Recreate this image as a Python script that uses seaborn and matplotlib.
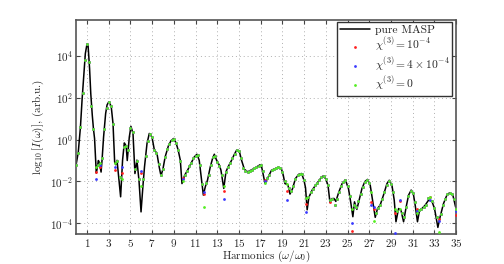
import numpy as np
import matplotlib
matplotlib.use("Agg")
import matplotlib.pyplot as plt
import seaborn as sns
from matplotlib.ticker import NullLocator

# black curve: harmonic order and log10 of intensity
line_h = [0.0, 0.1, 0.2, 0.3, 0.4, 0.55, 0.7, 0.85, 1.0, 1.1, 1.24, 1.35, 1.49, 1.6, 1.7, 1.78, 1.86, 1.95,
          2.05, 2.15, 2.3, 2.4, 2.53, 2.72, 2.85, 3.0, 3.1, 3.24, 3.4, 3.55, 3.65, 3.77, 3.95, 4.1, 4.28,
          4.44, 4.55, 4.62, 4.71, 4.9, 5.05, 5.24, 5.42, 5.6, 5.79, 5.98, 6.16, 6.3, 6.53, 6.74, 6.99,
          7.2, 7.45, 7.65, 7.82, 8.0, 8.2, 8.5, 8.75, 8.98, 9.2, 9.4, 9.6, 9.75, 10.0, 10.27, 10.58,
          10.88, 11.13, 11.34, 11.5, 11.72, 11.9, 12.1, 12.36, 12.57, 12.73, 12.94, 13.19, 13.34, 13.6,
          13.8, 14.0, 14.26, 14.57, 14.78, 15.05, 15.24, 15.5, 15.8, 16.4, 16.95, 17.08, 17.4, 17.7,
          18.0, 18.6, 18.9, 19.08, 19.23, 19.5, 19.7, 19.93, 20.2, 20.52, 20.77, 20.99, 21.13, 21.28,
          21.44, 21.75, 22.2, 22.62, 22.75, 22.98, 23.2, 23.38, 23.53, 23.75, 23.92, 24.2, 24.5, 24.8,
          25.09, 25.31, 25.49, 25.64, 25.86, 26.1, 26.33, 26.6, 26.84, 27.09, 27.3, 27.55, 27.76, 28.0,
          28.31, 28.63, 28.84, 29.09, 29.3, 29.46, 29.7, 29.92, 30.16, 30.4, 30.62, 30.86, 31.08,
          31.23, 31.44, 31.63, 31.85, 32.15, 32.46, 32.77, 33.01, 33.32, 33.53, 33.84, 34.15, 34.39,
          34.7, 34.95]
line_logI = [-1.2, -0.9, -0.6, 0.0, 0.6, 1.9, 3.0, 4.1, 4.55, 4.5, 3.4, 2.2, 1.16, 0.5, 0.05, -0.8, -1.6, -1.35,
             -1.0, -1.1, -1.55, -0.9, 0.12, 1.24, 1.65, 1.79, 1.75, 1.55, 0.76, -1.07, -1.2, -0.99, -1.94, -2.73, -0.98,
             -0.16, -0.25, -0.35, -1.0, 0.12, 0.63, 0.29, -1.62, -0.98, -1.94, -3.45, -2.18, -1.3, -0.19, 0.29, 0.12,
             -0.48, -0.67, -1.3, -1.73, -1.4, -0.83, -0.3, -0.05, 0.05, -0.15, -0.5, -0.99, -2.1, -1.7, -1.46, -1.14,
             -0.83, -0.7, -0.99, -1.7, -2.65, -2.25, -1.94, -1.3, -0.9, -0.7, -0.99, -1.22, -1.46, -2.33,
             -1.54, -1.3, -1.05, -0.71, -0.51, -0.6, -0.99, -1.42, -1.54, -1.38, -1.2, -1.28, -2.1, -1.78,
             -1.46, -1.33, -1.38, -1.7, -2.1, -2.15, -2.6, -2.35, -1.86, -1.65, -1.62, -1.94, -2.3, -3.35,
             -2.75, -2.4, -2.08, -1.78, -1.74, -1.86, -2.18, -3.0, -2.82, -2.81, -2.95, -2.5, -2.1, -1.92,
             -2.35, -3.05, -3.68, -2.97, -3.33, -2.81, -2.33, -2.0, -1.9, -2.18, -2.89, -3.71, -3.29, -3.13,
             -2.65, -2.1, -1.94, -2.18, -2.89, -3.92, -3.29, -3.37, -3.92, -3.21, -2.65, -2.41, -2.65,
             -3.13, -3.92, -3.37, -3.29, -3.13, -2.89, -2.94, -3.29, -4.19, -3.68, -3.05, -2.65, -2.54,
             -2.65, -3.21]

# dotted series sampled every 0.2 harmonic
dot_h = np.round(np.arange(0, 35.01, 0.2), 1)
chi0_logI = [-1.2, -0.65, 0.6, 2.2, 3.8, 4.55, 3.7, 1.6, 0.5, -1.3,
             -1.2, -1.1, -0.9, 0.5, 1.5, 1.78, 1.6, 0.76, -1.1, -1.0,
             -1.8, -1.9, -0.35, -0.3, -0.5, 0.55, 0.35, -1.4, -1.0, -1.9,
             -2.2, -1.9, -0.8, -0.05, 0.28, 0.12, -0.48, -0.64, -1.15, -1.7,
             -1.4, -0.83, -0.45, -0.2, -0.03, 0.05, -0.15, -0.5, -1.0, -2.0,
             -1.7, -1.52, -1.25, -1.12, -0.9, -0.78, -0.72, -1.2, -2.1, -3.2,
             -2.05, -1.7, -1.22, -0.85, -0.78, -1.05, -1.24, -1.7, -2.2, -1.54,
             -1.3, -1.1, -0.9, -0.68, -0.51, -0.56, -0.9, -1.35, -1.5, -1.54,
             -1.5, -1.45, -1.38, -1.33, -1.26, -1.22, -1.5, -2.05, -1.85, -1.7,
             -1.46, -1.4, -1.36, -1.33, -1.36, -1.55, -2.0, -2.1, -2.3, -2.45,
             -2.2, -1.86, -1.7, -1.63, -1.63, -1.95, -2.8, -2.75, -2.5, -2.35,
             -2.15, -2.08, -1.92, -1.78, -1.75, -1.87, -2.18, -2.9, -2.82, -3.1,
             -2.85, -2.5, -2.22, -2.02, -1.92, -2.2, -2.7, -3.3, -3.1, -3.2,
             -2.95, -2.6, -2.25, -2.02, -1.92, -2.05, -2.5, -3.9, -3.5, -3.25,
             -3.13, -2.85, -2.5, -2.15, -1.96, -2.1, -2.5, -3.3, -3.4, -3.3,
             -3.5, -3.7, -3.2, -2.7, -2.45, -2.55, -3.0, -3.5, -3.35, -3.3,
             -3.2, -3.1, -2.8, -2.75, -2.95, -3.28, -3.7, -4.4, -3.55, -3.1,
             -2.85, -2.6, -2.54, -2.6, -2.85, -3.3]
# points where the chi=1e-4 (red) and chi=4e-4 (blue) dots leave the green ones
chi1_diff = {1.8: -1.55, 2.2: -1.3, 3.6: -1.45, 4.2: -1.6, 6.0: -1.6, 9.8: -1.85, 11.8: -2.6,
             13.6: -2.45, 17.4: -1.95, 19.4: -2.45, 21.2: -3.05, 23.4: -2.97, 25.4: -4.37,
             27.2: -2.97, 27.4: -3.3, 29.4: -3.5, 29.8: -2.95, 31.4: -3.3, 32.6: -2.75,
             33.4: -3.8, 35.0: -3.6}
chi4_diff = {1.8: -1.9, 2.2: -1.2, 3.6: -1.3, 4.2: -1.3, 6.0: -1.5, 9.8: -1.9, 11.8: -2.5,
             13.6: -2.85, 17.4: -2.0, 19.4: -2.9, 21.2: -3.45, 23.4: -2.9, 25.4: -4.0,
             27.2: -3.13, 27.4: -3.2, 29.4: -4.45, 29.8: -2.9, 31.4: -3.4, 32.6: -2.9,
             33.4: -3.9, 35.0: -3.4}


def series(diff):
    vals = list(chi0_logI)
    for h, v in diff.items():
        vals[int(round(h / 0.2))] = v
    return 10 ** np.array(vals)


sns.set_style("ticks")
plt.rcParams["font.family"] = ["cmr10", "DejaVu Serif"]
plt.rcParams["mathtext.fontset"] = "cm"
plt.rcParams["axes.formatter.use_mathtext"] = True

fig, ax = plt.subplots(figsize=(5.04, 2.64), dpi=100)
fig.subplots_adjust(left=0.151, right=0.905, bottom=0.114, top=0.924)

sns.lineplot(x=line_h, y=10 ** np.array(line_logI), color="k", lw=1.1,
             label="pure MASP", estimator=None, sort=False, ax=ax)
sns.scatterplot(x=dot_h, y=series(chi1_diff), color="#ff2020", s=4, linewidth=0,
                label=r"$\chi^{(3)} = 10^{-4}$", ax=ax, zorder=3)
sns.scatterplot(x=dot_h, y=series(chi4_diff), color="#3a3aff", s=4, linewidth=0,
                label=r"$\chi^{(3)} = 4\times10^{-4}$", ax=ax, zorder=3)
sns.scatterplot(x=dot_h, y=10 ** np.array(chi0_logI), color="#55ee22", s=4, linewidth=0,
                label=r"$\chi^{(3)} = 0$", ax=ax, zorder=3)

ax.set_yscale("log")
ax.set_xlim(0, 35)
ax.set_ylim(10 ** -4.5, 10 ** 5.7)
ax.set_xticks(range(1, 36, 2))
ax.set_yticks([1e-4, 1e-2, 1e0, 1e2, 1e4])
ax.yaxis.set_minor_locator(NullLocator())
ax.tick_params(direction="in", top=True, right=True, length=3, width=0.8,
               labelsize=8, color="#444444", pad=2)
ax.grid(True, ls=(0, (1, 3)), color="#b0b0b0", lw=0.7)
for sp in ax.spines.values():
    sp.set_color("#555555")
    sp.set_linewidth(1.2)

ax.set_xlabel(r"Harmonics $(\omega/\omega_0)$", fontsize=8, labelpad=0)
ax.set_ylabel(r"$\log_{10}[I(\omega)]$, (arb.u.)", fontsize=8, labelpad=3)

leg = ax.legend(loc="upper right", bbox_to_anchor=(0.99, 0.99), fontsize=8.3, frameon=True,
                fancybox=False, framealpha=1, edgecolor="#333333", handlelength=2.6,
                borderpad=0.25, labelspacing=0.1, borderaxespad=0.0, handletextpad=0.4)
leg.get_frame().set_linewidth(1.0)

fig.savefig("out.png", dpi=100)
